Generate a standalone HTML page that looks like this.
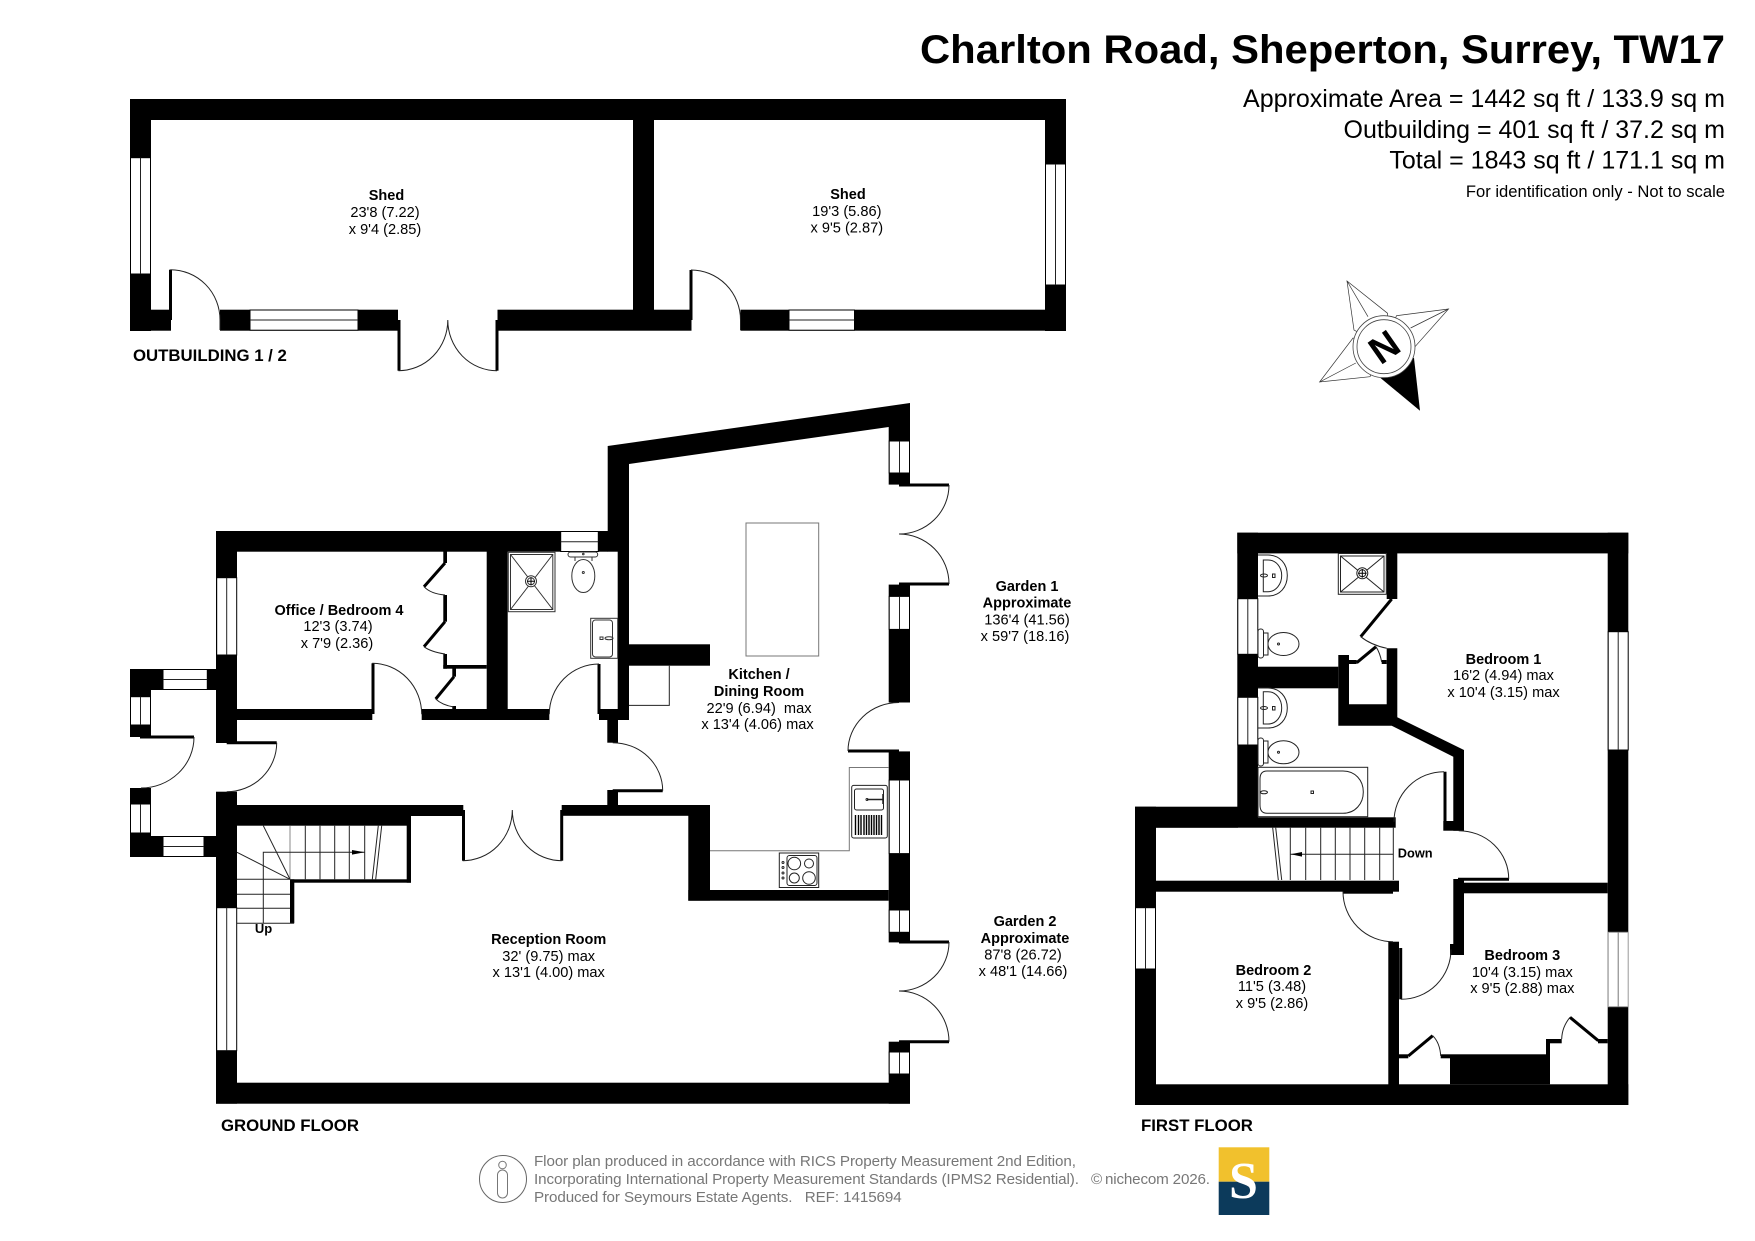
<!DOCTYPE html>
<html><head><meta charset="utf-8"><title>Charlton Road floor plan</title>
<style>
html,body{margin:0;padding:0;background:#fff;width:1755px;height:1241px;overflow:hidden}
svg{display:block}
text{font-family:"Liberation Sans",sans-serif;fill:#000}
.b{font-weight:bold;font-size:14.5px;text-anchor:middle}
.r{font-size:14.6px;text-anchor:middle}
.t{stroke:#222;stroke-width:1;fill:none}
.g{stroke:#777;stroke-width:1;fill:none}
.k{stroke:#000;stroke-width:3;fill:none}
.w{fill:#fff;stroke:#000;stroke-width:1}
.f{font-size:15.2px;fill:#777}
.h{font-weight:bold;font-size:16.8px}
</style></head><body>
<svg width="1755" height="1241" viewBox="0 0 1755 1241" xmlns="http://www.w3.org/2000/svg">
<rect width="1755" height="1241" fill="#fff"/>

<!-- Titles -->
<text x="1725" y="63" text-anchor="end" font-weight="bold" font-size="40" textLength="805" lengthAdjust="spacingAndGlyphs">Charlton Road, Sheperton, Surrey, TW17</text>
<g font-size="25" text-anchor="end">
<text x="1725" y="107" textLength="482" lengthAdjust="spacingAndGlyphs">Approximate Area = 1442 sq ft / 133.9 sq m</text>
<text x="1725" y="138">Outbuilding = 401 sq ft / 37.2 sq m</text>
<text x="1725" y="168.5">Total = 1843 sq ft / 171.1 sq m</text>
</g>
<text x="1725" y="197" text-anchor="end" font-size="16.6">For identification only - Not to scale</text>

<!-- Compass -->
<g fill="#fff" stroke="#333" stroke-width=".7">
<polygon points="1347,281 1387.6,313.3 1384,346 1354,330"/>
<line x1="1347" y1="281" x2="1368" y2="316.7"/>
<polygon points="1448.5,309 1396.5,315.7 1384,346 1415,346.7"/>
<line x1="1448.5" y1="309" x2="1410.6" y2="328"/>
<polygon points="1319.6,382 1353,338 1384,346 1370,376.7"/>
<line x1="1319.6" y1="382" x2="1355.8" y2="363"/>
</g>
<polygon points="1420,410.7 1414,358 1384,346 1380.5,378" fill="#000"/>
<circle cx="1384" cy="346.7" r="31" fill="#fff" stroke="#444" stroke-width=".8"/>
<circle cx="1384" cy="346.7" r="27" fill="#fff" stroke="#444" stroke-width=".8"/>
<text x="0" y="0" font-weight="bold" font-size="38" text-anchor="middle" transform="translate(1384,346.7) rotate(-35) translate(0,13.5)">N</text>

<!-- OUTBUILDINGS -->
<g fill="#000">
<rect x="130" y="99" width="936" height="21"/>
<rect x="130" y="99" width="21" height="232"/>
<rect x="1045" y="99" width="21" height="232"/>
<rect x="633" y="99" width="21" height="211"/>
<rect x="130" y="309.7" width="41" height="21"/>
<rect x="220" y="309.7" width="178" height="21"/>
<rect x="497.5" y="309.7" width="194" height="21"/>
<rect x="740.5" y="309.7" width="325.5" height="21"/>
</g>
<rect class="w" x="130.5" y="157.7" width="20" height="116.3"/><line class="t" x1="140.5" y1="157.7" x2="140.5" y2="274"/>
<rect class="w" x="250" y="310" width="108" height="20.2"/><line class="t" x1="250" y1="320" x2="358" y2="320"/>
<rect class="w" x="789" y="310" width="65.5" height="20.2"/><line class="t" x1="789" y1="320" x2="854.5" y2="320"/>
<rect class="w" x="1045.5" y="164" width="20" height="121"/><line class="t" x1="1055.5" y1="164" x2="1055.5" y2="285"/>
<line class="k" x1="170.5" y1="269.7" x2="170.5" y2="320"/>
<path class="t" d="M170.3 269.7A49.7 50 0 0 1 220 320V330"/>
<line class="k" x1="399" y1="320" x2="399" y2="370.7"/>
<line class="k" x1="497" y1="320" x2="497" y2="370.7"/>
<path class="t" d="M398.5 370.7A49.3 50.7 0 0 0 447.8 320M497 370.7A49 50.7 0 0 1 447.8 320"/>
<line class="k" x1="691" y1="270" x2="691" y2="320"/>
<path class="t" d="M691 270A49.5 50 0 0 1 740.5 320V330"/>
<text class="b" x="386.5" y="200">Shed</text>
<text class="r" x="385" y="217">23'8 (7.22)</text>
<text class="r" x="385" y="234">x 9'4 (2.85)</text>
<text class="b" x="848" y="199">Shed</text>
<text class="r" x="846.8" y="216">19'3 (5.86)</text>
<text class="r" x="846.8" y="232.5">x 9'5 (2.87)</text>
<text class="h" x="133" y="361">OUTBUILDING 1 / 2</text>

<!-- GROUND FLOOR walls -->
<g fill="#000">
<rect x="130" y="669" width="86" height="21"/>
<rect x="130" y="669" width="21" height="68"/>
<rect x="130" y="788" width="21" height="69"/>
<rect x="130" y="836" width="86" height="21"/>
<rect x="216" y="531" width="21" height="212"/>
<rect x="216" y="791.7" width="21" height="312"/>
<rect x="216" y="1082.7" width="694" height="21"/>
<rect x="216" y="531" width="392" height="20.7"/>
<polygon points="607.7,446 910,403 910,427 888.7,427 629,464 629,531 607.7,531"/>
<rect x="617.7" y="531" width="11.3" height="188.5"/>
<rect x="607.7" y="531" width="21.3" height="20.7"/>
<rect x="629" y="644.3" width="81" height="21.4"/>
<rect x="888.7" y="427" width="21.3" height="57.6"/>
<rect x="888.7" y="584.6" width="21.3" height="117.9"/>
<rect x="888.7" y="751.4" width="21.3" height="191"/>
<rect x="888.7" y="1041.7" width="21.3" height="62"/>
<rect x="237" y="709" width="135.3" height="11"/>
<rect x="421.7" y="709" width="127.6" height="11"/>
<rect x="599" y="709" width="30" height="11"/>
<rect x="486.7" y="551" width="21" height="160"/>
<rect x="607.3" y="719" width="10.7" height="23.7"/>
<rect x="607.3" y="790" width="10.7" height="15.5"/>
<rect x="237" y="805" width="226.3" height="11"/>
<rect x="237" y="805" width="174" height="20.7"/>
<rect x="561.7" y="805" width="148.3" height="10.8"/>
<rect x="688.3" y="805" width="21.7" height="95.7"/>
<rect x="688.3" y="890" width="200.4" height="10.7"/>
<rect x="406.7" y="825" width="4.3" height="57.7"/>
<rect x="290" y="879.3" width="121" height="3.4"/>
<rect x="290" y="879.3" width="4.3" height="44"/>
<rect x="443.3" y="551" width="3.7" height="12"/>
<rect x="443.3" y="595" width="3.7" height="26.7"/>
<rect x="443.3" y="654" width="3.7" height="14.7"/>
<rect x="443.3" y="665" width="43.4" height="3.7"/>
<rect x="452.3" y="668" width="3.7" height="8.7"/>
<rect x="452.3" y="706" width="3.7" height="4"/>
</g>
<path class="k" d="M445 563L424 586.7M445 621.7L424 646.7M454 676.7L435.7 699"/>
<line class="k" x1="140" y1="737" x2="194" y2="737"/>
<line class="k" x1="226.7" y1="742.7" x2="276.7" y2="742.7"/>
<line class="k" x1="373" y1="663.3" x2="373" y2="714"/>
<line class="k" x1="599" y1="664" x2="599" y2="714"/>
<line class="k" x1="463.5" y1="810" x2="463.5" y2="860.7"/>
<line class="k" x1="561.7" y1="810" x2="561.7" y2="860.7"/>
<line class="k" x1="612.7" y1="790.7" x2="662.7" y2="790.7"/>
<line class="k" x1="899" y1="485" x2="949" y2="485"/>
<line class="k" x1="899" y1="584" x2="949" y2="584"/>
<line class="k" x1="848" y1="751" x2="899" y2="751"/>
<line class="k" x1="899" y1="942" x2="949" y2="942"/>
<line class="k" x1="899" y1="1041.7" x2="949" y2="1041.7"/>
<path class="t" d="M445 595Q431 594 424 586.7M445 654Q431 652 424 646.7M453.7 707Q442 705 435.7 699"/>
<path class="t" d="M194 737A53 51 0 0 1 141 788"/>
<path class="t" d="M276.7 742.7A50 49 0 0 1 226.7 791.7"/>
<path class="t" d="M372.3 663.300A49.400 51 0 0 1 421.700 714.300"/>
<path class="t" d="M549.300 714.300A49.700 50.300 0 0 1 599 664"/>
<path class="t" d="M612.700 742.700A50 48 0 0 1 662.700 790.700"/>
<path class="t" d="M462.700 860.700A49.600 50.700 0 0 0 512.300 810M561.700 860.700A49.400 50.700 0 0 1 512.300 810"/>
<path class="t" d="M949 485A50 49 0 0 1 899 534A50 50 0 0 1 949 584"/>
<path class="t" d="M899 702.500A51 48.500 0 0 0 848 751"/>
<path class="t" d="M949 942A50 49 0 0 1 899 991A50 50.700 0 0 1 949 1041.700"/>
<!-- ground windows -->
<rect class="w" x="163" y="669.500" width="44.300" height="20"/><line class="t" x1="163" y1="679.500" x2="207.300" y2="679.500"/>
<rect class="w" x="130.500" y="696.700" width="20" height="28.300"/><line class="t" x1="140.500" y1="696.700" x2="140.500" y2="725"/>
<rect class="w" x="130.500" y="804" width="20" height="29"/><line class="t" x1="140.500" y1="804" x2="140.500" y2="833"/>
<rect class="w" x="163" y="836.500" width="41" height="20"/><line class="t" x1="163" y1="846.500" x2="204" y2="846.500"/>
<rect class="w" x="216.700" y="577.700" width="20" height="77.300"/><line class="t" x1="226.700" y1="577.700" x2="226.700" y2="655"/>
<rect class="w" x="216.700" y="907.700" width="20" height="143"/><line class="t" x1="226.700" y1="907.700" x2="226.700" y2="1050.700"/>
<rect class="w" x="560.700" y="531.500" width="37.600" height="20"/><line class="t" x1="560.700" y1="541.700" x2="598.300" y2="541.700"/>
<rect class="w" x="889.200" y="441" width="20.300" height="32"/><line class="t" x1="899.500" y1="441" x2="899.500" y2="473"/>
<rect class="w" x="889.200" y="596.400" width="20.300" height="33"/><line class="t" x1="899.500" y1="596.400" x2="899.500" y2="629.300"/>
<rect class="w" x="889.200" y="780" width="20.300" height="73.600"/><line class="t" x1="899.500" y1="780" x2="899.500" y2="853.600"/>
<rect class="w" x="889.200" y="910" width="20.300" height="22.300"/><line class="t" x1="899.500" y1="910" x2="899.500" y2="932.300"/>
<rect class="w" x="889.200" y="1052" width="20.300" height="22"/><line class="t" x1="899.500" y1="1052" x2="899.500" y2="1074"/>
<!-- stairs ground -->
<g stroke="#222" stroke-width="1" fill="none">
<path d="M305.300 825.700V879.300M320 825.700V879.300M334.700 825.700V879.300M349.300 825.700V879.300M364.700 825.700V879.300"/>
<path stroke="#888" d="M290 825.700V879.300"/>
<path d="M381.700 825.700L375.700 879.300M378.300 825.700L372.300 879.300"/>
<path d="M364.700 852.300H263.300V923.300"/>
<path d="M263.300 825.700L290 879.300L237 852.300"/>
<path d="M237 879.300H290M237 894.300H290M237 908.300H290M237 923.300H294"/>
</g>
<polygon points="364.700,852.300 352,850 352,854.600" fill="#000"/>
<text x="263.500" y="933" font-weight="bold" font-size="13" text-anchor="middle">Up</text>
<!-- shower / toilet / basin -->
<g stroke="#333" stroke-width="1" fill="none">
<rect x="508.300" y="552.300" width="46.700" height="59.400"/>
<rect x="510.500" y="554.500" width="42.300" height="55"/>
<path d="M510.500 554.500L552.800 609.500M552.800 554.500L510.500 609.500"/>
<circle cx="531" cy="581.300" r="5.500" fill="#fff"/><circle cx="531" cy="581.300" r="3.500"/>
<path d="M527 581.300H535M531 577.300V585.300" stroke="#000"/>
<rect x="568" y="552" width="29.700" height="5" rx="2.500"/>
<path d="M575 557V561M592 557V561"/>
<ellipse cx="583.300" cy="576" rx="11.500" ry="16.500"/>
<circle cx="583.300" cy="572.500" r="1"/><circle cx="583.300" cy="554" r=".8"/>
<rect x="590.700" y="618.300" width="27" height="40"/>
<rect x="592.500" y="620" width="20" height="37" rx="3"/>
<rect x="600" y="637" width="3" height="2.500"/><ellipse cx="609" cy="638.200" rx="4" ry="1.500"/>
</g>
<!-- kitchen fittings -->
<rect class="g" x="746" y="523" width="72.700" height="133"/>
<path class="t" d="M669.300 665.700V705.400H629"/>
<path class="g" d="M710 850.700H849.300V767.500H888.700"/>
<g stroke="#222" stroke-width="1" fill="none">
<rect x="851.700" y="785.400" width="35.600" height="52.600" rx="2"/>
<rect x="854.500" y="789" width="29" height="21" rx="2"/>
<path d="M867 799.500H884M883 794V804" stroke="#222" stroke-width="1.500"/>
<circle cx="867" cy="799.500" r="1"/>
<path stroke="#000" stroke-width="1.400" d="M855.500 815V835M858.500 815V835M861 815V835M864 815V835M866.500 815V835M869 815V835M871.500 815V835M874 815V835M876.500 815V835M879 815V835M881.500 815V835"/>
<rect x="779.300" y="853" width="39.400" height="34.500"/>
<rect x="787" y="855.500" width="30" height="30" rx="2.500"/>
<circle cx="794.300" cy="863.500" r="6.300"/><circle cx="809" cy="863.500" r="4.500"/>
<circle cx="794.300" cy="878" r="5"/><circle cx="809" cy="878" r="6.300"/>
<circle cx="783" cy="862.500" r="1"/><circle cx="783" cy="867.500" r="1"/><circle cx="783" cy="873" r="1"/><circle cx="783" cy="878" r="1"/>
</g>
<!-- ground labels -->
<text class="b" x="339" y="615">Office / Bedroom 4</text>
<text class="r" x="338" y="631">12'3 (3.74)</text>
<text class="r" x="337" y="648">x 7'9 (2.36)</text>
<text class="b" x="759" y="679">Kitchen /</text>
<text class="b" x="759" y="696">Dining Room</text>
<text class="r" x="759" y="713" xml:space="preserve" style="white-space:pre">22'9 (6.94)  max</text>
<text class="r" x="757.500" y="729">x 13'4 (4.06) max</text>
<text class="b" x="548.700" y="944">Reception Room</text>
<text class="r" x="548.700" y="961">32' (9.75) max</text>
<text class="r" x="548.700" y="977">x 13'1 (4.00) max</text>
<text class="b" x="1027" y="591">Garden 1</text>
<text class="b" x="1027" y="607.500">Approximate</text>
<text class="r" x="1027" y="624.500">136'4 (41.56)</text>
<text class="r" x="1025" y="641">x 59'7 (18.16)</text>
<text class="b" x="1025" y="926">Garden 2</text>
<text class="b" x="1025" y="943">Approximate</text>
<text class="r" x="1023" y="959.500">87'8 (26.72)</text>
<text class="r" x="1023" y="976">x 48'1 (14.66)</text>
<text class="h" x="221" y="1131">GROUND FLOOR</text>

<!-- FIRST FLOOR walls -->
<g fill="#000">
<rect x="1237.300" y="532.700" width="391" height="20.700"/>
<rect x="1237.300" y="532.700" width="20.700" height="285"/>
<rect x="1607.700" y="532.700" width="20.600" height="572.300"/>
<rect x="1135" y="1084.300" width="493.300" height="20.700"/>
<rect x="1135" y="806.700" width="21" height="298"/>
<rect x="1135" y="806.700" width="103" height="21"/>
<rect x="1156" y="817.300" width="239.700" height="10.400"/>
<rect x="1156" y="880.700" width="243" height="11"/>
<rect x="1343" y="885" width="50" height="8.700"/>
<rect x="1388.300" y="941.700" width="10.700" height="143"/>
<rect x="1258" y="666.700" width="80.300" height="21.600"/>
<rect x="1386.700" y="553" width="10.600" height="46"/>
<polygon points="1397.300,717.300 1464,750 1464,830.700 1453.300,830.700 1453.300,756.700 1391.700,725.700 1338.300,725.700 1338.300,655 1349,655 1349,704.300 1386.700,704.300 1386.700,648.300 1397.300,648.300"/>
<rect x="1443.300" y="821" width="20.700" height="9.700"/>
<rect x="1453.300" y="879" width="10.700" height="65"/>
<rect x="1450" y="944" width="14" height="11"/>
<rect x="1458" y="882.700" width="149.700" height="10.600"/>
<rect x="1450" y="1054.300" width="100" height="30"/>
<rect x="1546" y="1039" width="4" height="18"/>
<rect x="1546" y="1039" width="15.700" height="4.300"/>
<rect x="1598" y="1039" width="9.700" height="4.300"/>
<rect x="1399" y="1054.300" width="9.300" height="4"/>
<rect x="1440.700" y="1054.300" width="9.300" height="4"/>
<rect x="1349" y="660" width="7.700" height="4"/>
<rect x="1381.700" y="660" width="5" height="4"/>
</g>
<line class="k" x1="1391.700" y1="599" x2="1360.700" y2="636.700"/>
<line class="k" x1="1376" y1="646.700" x2="1356.700" y2="662.700"/>
<line class="k" x1="1445" y1="771.700" x2="1445" y2="822"/>
<line class="k" x1="1458" y1="879.300" x2="1509" y2="879.300"/>
<line class="k" x1="1400.700" y1="948" x2="1400.700" y2="999.300"/>
<line class="k" x1="1408.300" y1="1056" x2="1432.700" y2="1035.700"/>
<line class="k" x1="1570" y1="1017.300" x2="1598.300" y2="1040.700"/>
<path class="t" d="M1360.700 636.700Q1371 645 1386.700 648.300"/>
<path class="t" d="M1376 646.700Q1380 653 1381.700 662"/>
<path class="t" d="M1444 771.700A50 50 0 0 0 1394 821.700"/>
<path class="t" d="M1458.700 830.700A50 48 0 0 1 1508.700 879"/>
<path class="t" d="M1343 891.500A50 50.200 0 0 0 1393 941.700"/>
<path class="t" d="M1401 999.300A50 49.800 0 0 0 1451 949.500"/>
<path class="t" d="M1432.700 1035.700Q1440 1043 1440.700 1056"/>
<path class="t" d="M1570 1017.300Q1562 1027 1561.700 1039"/>
<!-- first floor windows -->
<rect class="w" x="1237.800" y="598.700" width="20" height="55.600"/><line class="t" x1="1247.800" y1="598.700" x2="1247.800" y2="654.300"/>
<rect class="w" x="1237.800" y="697.300" width="20" height="47.700"/><line class="t" x1="1247.800" y1="697.300" x2="1247.800" y2="745"/>
<rect class="w" x="1135.500" y="907.700" width="20" height="61.300"/><line class="t" x1="1145.500" y1="907.700" x2="1145.500" y2="969"/>
<rect class="w" x="1608.200" y="631.700" width="20" height="118.300"/><line class="t" x1="1618.200" y1="631.700" x2="1618.200" y2="750"/>
<rect x="1608.200" y="932.300" width="20" height="74.400" fill="#fff" stroke="#999"/><line class="g" x1="1618.200" y1="932.300" x2="1618.200" y2="1006.700"/>
<!-- first floor fittings -->
<g stroke="#222" stroke-width="1" fill="none">
<rect x="1338.300" y="553.500" width="48" height="40.800"/>
<rect x="1340.500" y="556" width="43.500" height="36"/>
<path d="M1340.500 556L1384 592M1384 556L1340.500 592"/>
<circle cx="1362.300" cy="573.300" r="5.500" fill="#fff"/><circle cx="1362.300" cy="573.300" r="3.500"/>
<path d="M1358 573.300H1366.600M1362.300 569V577.600" stroke="#000"/>
<path d="M1258 555H1268C1280 555 1287.300 564 1287.300 575.500C1287.300 587 1280 596 1268 596H1258"/>
<path d="M1263.300 560H1268C1276 560 1281.700 567 1281.700 575.500C1281.700 584 1276 591.700 1268 591.700H1263.300Z"/>
<ellipse cx="1264" cy="575.500" rx="3.500" ry="1.500"/><rect x="1272.500" y="574" width="2.500" height="3.500"/>
<path d="M1258 688H1268C1280 688 1287.300 697 1287.300 708C1287.300 719 1280 728 1268 728H1258"/>
<path d="M1263.300 691.700H1268C1276 691.700 1281.700 699 1281.700 708C1281.700 717 1276 724 1268 724H1263.300Z"/>
<ellipse cx="1264" cy="708" rx="3.500" ry="1.500"/><rect x="1272.500" y="706.500" width="2.500" height="3.500"/>
<rect x="1258" y="629" width="5.500" height="29" rx="2.500"/>
<path d="M1263.500 633H1268V655H1263.500"/>
<ellipse cx="1283.500" cy="644" rx="15.500" ry="11.500"/>
<circle cx="1278.500" cy="644" r="1"/>
<rect x="1258" y="738" width="5.500" height="28" rx="2.500"/>
<path d="M1263.500 741H1268V763H1263.500"/>
<ellipse cx="1283.500" cy="752.300" rx="15.500" ry="11.500"/>
<circle cx="1278.500" cy="752.300" r="1"/>
<rect x="1258" y="767.300" width="109.700" height="49.400"/>
<path d="M1267 771H1343C1355 771 1363.300 780 1363.300 792C1363.300 804 1355 813.300 1343 813.300H1267C1262 813.300 1260 810 1260 805V779C1260 774 1262 771 1267 771Z"/>
<ellipse cx="1264" cy="792.300" rx="3.500" ry="1.500"/><rect x="1311" y="791" width="2.500" height="2.500"/>
<path d="M1290.300 827.700V880M1305.700 827.700V880M1320.700 827.700V880M1335.300 827.700V880M1350 827.700V880M1364.700 827.700V880M1379.700 827.700V880M1393.300 827.700V880"/>
<path d="M1290.300 854.300H1393.300"/>
<path d="M1272.700 827.700L1278.300 880M1275.700 827.700L1281.700 880"/>
</g>
<polygon points="1290.700,854.300 1302,852 1302,856.600" fill="#000"/>
<text x="1397.800" y="857.500" font-weight="bold" font-size="12.800">Down</text>
<!-- first floor labels -->
<text class="b" x="1503.500" y="664">Bedroom 1</text>
<text class="r" x="1503.500" y="680">16'2 (4.94) max</text>
<text class="r" x="1503.500" y="697">x 10'4 (3.15) max</text>
<text class="b" x="1273.500" y="975">Bedroom 2</text>
<text class="r" x="1272" y="991">11'5 (3.48)</text>
<text class="r" x="1272" y="1008">x 9'5 (2.86)</text>
<text class="b" x="1522.300" y="960">Bedroom 3</text>
<text class="r" x="1522.300" y="977">10'4 (3.15) max</text>
<text class="r" x="1522.300" y="993">x 9'5 (2.88) max</text>
<text class="h" x="1141" y="1131">FIRST FLOOR</text>

<!-- Footer -->
<circle cx="503" cy="1179" r="23.500" fill="none" stroke="#666" stroke-width="1"/>
<circle cx="502.500" cy="1165" r="3.800" fill="none" stroke="#777" stroke-width="1"/>
<rect x="497.500" y="1170" width="10" height="28" rx="5" fill="none" stroke="#777" stroke-width="1"/>
<text class="f" x="534" y="1166" textLength="542">Floor plan produced in accordance with RICS Property Measurement 2nd Edition,</text>
<text class="f" x="534" y="1184" textLength="545">Incorporating International Property Measurement Standards (IPMS2 Residential).</text>
<text class="f" x="534" y="1202" textLength="367.700" style="white-space:pre" xml:space="preserve">Produced for Seymours Estate Agents.   REF: 1415694</text>
<text class="f" x="1091" y="1184">©</text>
<text class="f" x="1105" y="1184" textLength="105">nichecom 2026.</text>
<rect x="1218.700" y="1147.300" width="50.600" height="34.400" fill="#f1c12d"/>
<rect x="1218.700" y="1181.700" width="50.600" height="33.300" fill="#0c3a5b"/>
<text x="1243.500" y="1198" font-size="52" font-weight="bold" text-anchor="middle" style="font-family:'Liberation Serif',serif;fill:#fff">S</text>
</svg>
</body></html>
